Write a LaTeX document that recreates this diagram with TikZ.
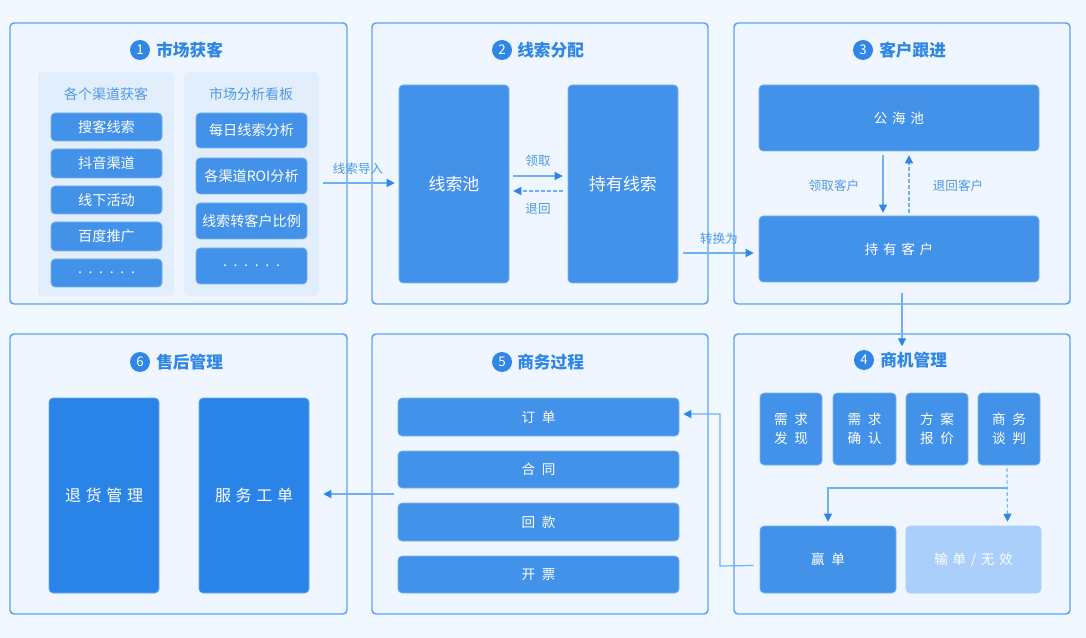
\documentclass[tikz,border=0pt]{standalone}
\usepackage{fontspec}
\setmainfont{Noto Sans CJK SC}
\usetikzlibrary{arrows.meta,fit,calc}
\definecolor{bg}{HTML}{F2F8FF}
\definecolor{panelfill}{HTML}{EFF6FF}
\definecolor{panelline}{HTML}{5AA2F4}
\definecolor{subfill}{HTML}{E2EEFC}
\definecolor{boxblue}{HTML}{4392EA}
\definecolor{darkblue}{HTML}{2A84E8}
\definecolor{lightblue}{HTML}{AACFFA}
\definecolor{titleblue}{HTML}{2F86E6}
\definecolor{linkblue}{HTML}{6FB0F5}
\definecolor{tipblue}{HTML}{2D86EA}
\newcommand{\ls}{\hspace{3.5pt}}
\newcommand{\lw}{\hspace{5pt}}
% \bxat[style]{name}{x1}{y1}{x2}{y2}{text}
\newcommand{\bxat}[7][bx]{%
  \node[#1, minimum width={(#5-#3)*0.75pt}, minimum height={(#6-#4)*0.75pt}]
    (#2) at ({(#3+#5)/2},{(#4+#6)/2}) {#7};}
\tikzset{
  panel/.style={draw=panelline, line width=1.1pt, fill=panelfill, rounded corners=3pt, inner sep=0pt},
  subpanel/.style={fill=subfill, rounded corners=3pt, inner sep=0pt},
  bx/.style={fill=boxblue, draw=boxblue!70!white, line width=0.4pt, rounded corners=3pt, inner sep=0pt, text=white},
  dbx/.style={bx, fill=darkblue, draw=darkblue!70!white, font=\fontsize{12}{13}\selectfont},
  lbx/.style={bx, fill=lightblue, draw=lightblue, font=\fontsize{10.2}{11}\selectfont},
  numc/.style={circle, fill=titleblue, text=white, minimum size=15pt, inner sep=0pt, font=\fontsize{10}{10}\selectfont},
  ttl/.style={anchor=west, text=titleblue, font=\bfseries\fontsize{12.5}{13}\selectfont, inner sep=0pt},
  subttl/.style={text=titleblue!85!white, font=\fontsize{10.5}{11}\selectfont, inner sep=0pt},
  itm/.style={bx, font=\fontsize{10.6}{11}\selectfont},
  big/.style={bx, font=\fontsize{12.7}{13}\selectfont},
  mid/.style={bx, font=\fontsize{10.2}{11}\selectfont},
  mid2/.style={bx, align=center, font=\fontsize{10.2}{14.5}\selectfont},
  lbl/.style={text=titleblue!85!white, font=\fontsize{9.4}{10}\selectfont, inner sep=0pt},
  link/.style={draw=linkblue, line width=0.9pt, -{Triangle[length=6pt,width=6pt,color=tipblue]}},
  dlink/.style={link, dash pattern=on 2.5pt off 2pt},
  tip/.style={draw=none, -{Triangle[length=6pt,width=6pt,color=tipblue]}}
}
\begin{document}
\begin{tikzpicture}[x=0.75pt,y=-0.75pt]
\fill[bg] (0,0) rectangle (1086,638);
\useasboundingbox (0,0) rectangle (1086,638);

% ---------- panels
\node[panel, fit={(10,23)(347,304)}] (p1) {};
\node[panel, fit={(372,23)(708,304)}] (p2) {};
\node[panel, fit={(734,23)(1070,304)}] (p3) {};
\node[panel, fit={(734,334)(1070,614)}] (p4) {};
\node[panel, fit={(372,334)(708,614)}] (p5) {};
\node[panel, fit={(10,334)(347,614)}] (p6) {};

% ---------- titles
\node[numc] (n1) at (140,50) {1}; \node[ttl] (t1) at (156,50) {市场获客};
\node[numc] (n2) at (502,50) {2}; \node[ttl] (t2) at (517,50) {线索分配};
\node[numc] (n3) at (863,50) {3}; \node[ttl] (t3) at (879,50) {客户跟进};
\node[numc] (n4) at (864,360) {4}; \node[ttl] (t4) at (880,360) {商机管理};
\node[numc] (n5) at (502,362) {5}; \node[ttl] (t5) at (517,362) {商务过程};
\node[numc] (n6) at (140,362) {6}; \node[ttl] (t6) at (156,362) {售后管理};

% ---------- panel 1
\node[subpanel, fit={(38,72)(174,296)}] (s1) {};
\node[subpanel, fit={(184,72)(319,296)}] (s2) {};
\node[subttl] (st1) at (106,94) {各个渠道获客};
\node[subttl] (st2) at (251,94) {市场分析看板};
\bxat[itm]{c1}{51}{113}{162}{141}{搜客线索}
\bxat[itm]{c2}{51}{149}{162}{178}{抖音渠道}
\bxat[itm]{c3}{51}{186}{162}{214}{线下活动}
\bxat[itm]{c4}{51}{222}{162}{251}{百度推广}
\bxat[itm]{c5}{51}{259}{162}{287}{.\lw.\lw.\lw.\lw.\lw.}
\bxat[itm]{m1}{196}{113}{307}{148}{每日线索分析}
\bxat[itm]{m2}{196}{158}{307}{194}{各渠道ROI分析}
\bxat[itm]{m3}{196}{203}{307}{239}{线索转客户比例}
\bxat[itm]{m4}{196}{248}{307}{284}{.\lw.\lw.\lw.\lw.\lw.}

% ---------- panel 2
\bxat[big]{pool}{399}{85}{509}{283}{线索池}
\bxat[big]{held}{568}{85}{678}{283}{持有线索}

% ---------- panel 3
\bxat[mid]{sea}{759}{85}{1039}{151}{公\ls 海\ls 池}
\bxat[mid]{cust}{759}{216}{1039}{282}{持\ls 有\ls 客\ls 户}

% ---------- panel 4
\bxat[mid2]{o1}{760}{393}{822}{465}{需\lw 求\\发\lw 现}
\bxat[mid2]{o2}{833}{393}{896}{465}{需\lw 求\\确\lw 认}
\bxat[mid2]{o3}{906}{393}{968}{465}{方\lw 案\\报\lw 价}
\bxat[mid2]{o4}{978}{393}{1040}{465}{商\lw 务\\谈\lw 判}
\bxat[mid]{win}{760}{526}{896}{593}{赢\lw 单}
\bxat[lbx]{lose}{906}{526}{1041}{593}{输\ls 单\ls /\ls 无\ls 效}

% ---------- panel 5
\bxat[mid]{f1}{398}{398}{679}{436}{订\lw 单}
\bxat[mid]{f2}{398}{451}{679}{488}{合\lw 同}
\bxat[mid]{f3}{398}{503}{679}{541}{回\lw 款}
\bxat[mid]{f4}{398}{556}{679}{593}{开\lw 票}

% ---------- panel 6
\bxat[dbx]{r1}{49}{398}{159}{593}{退\ls 货\ls 管\ls 理}
\bxat[dbx]{r2}{199}{398}{309}{593}{服\ls 务\ls 工\ls 单}

% ---------- connectors
\coordinate (a1) at (323,183);
\draw[link] (a1) -- ($(pool.west)+(-4,-1)$);
\node[lbl] (l1) at (358,169) {线索导入};

\draw[link] ($(pool.east)+(4,-8)$) -- ($(held.west)+(-5,-8)$);
\node[lbl] (l2) at (538,161) {领取};
\draw[dlink] ($(held.west)+(-5,7)$) -- ($(pool.east)+(4,7)$);
\node[lbl] (l3) at (538,209) {退回};

\coordinate (a2) at (683,253);
\draw[link] (a2) -- (a2 -| {$(cust.west)+(-5,0)$});
\node[lbl] (l4) at (719,239) {转换为};

\draw[link] ($(sea.south)+(-16,4)$) -- ($(cust.north)+(-16,-3)$);
\node[lbl] (l5) at (834,186) {领取客户};
\draw[dlink] ($(cust.north)+(10,-3)$) -- ($(sea.south)+(10,4)$);
\node[lbl] (l6) at (958,186) {退回客户};

\draw[link] ($(cust.south)+(3,11)$) -- ($(p4.north)+(-0,13)$);

\draw[tip] (o1.east) -- (o2.west);
\draw[tip] (o2.east) -- (o3.west);
\draw[tip] (o3.east) -- (o4.west);

\coordinate (b1) at (1007,488);
\draw[dlink] ($(o4.south)+(-2,3)$) -- ($(lose.north)+(34,-4)$);
\draw[link] (b1) -- (b1 -| win.north) -- ($(win.north)+(0,-4)$);

\coordinate (b2) at (720,566);
\coordinate (b2t) at (720,414);
\draw[link] ($(win.west)+(-6,6)$) -- (b2) -- (b2t) -- ($(f1.east)+(4,-3)$);

\coordinate (b3) at (394,494);
\draw[link] (b3) -- ($(r2.east)+(14,-1.5)$);
\end{tikzpicture}
\end{document}
